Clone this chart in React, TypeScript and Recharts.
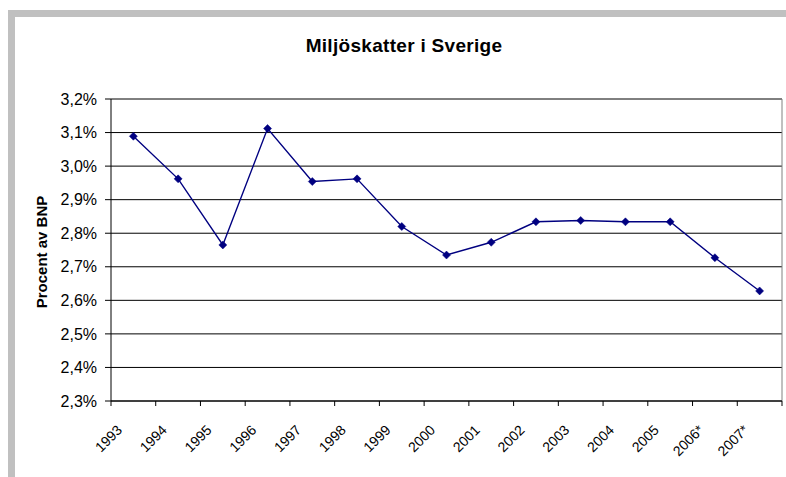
import React from 'react';
import { LineChart, Line, XAxis, YAxis, CartesianGrid, ReferenceLine } from 'recharts';

const years = ['1993', '1994', '1995', '1996', '1997', '1998', '1999', '2000', '2001', '2002', '2003', '2004', '2005', '2006*', '2007*'];
const values = [3.089, 2.962, 2.765, 3.112, 2.954, 2.962, 2.82, 2.735, 2.773, 2.834, 2.838, 2.834, 2.834, 2.727, 2.628];
const yTicks = [2.3, 2.4, 2.5, 2.6, 2.7, 2.8, 2.9, 3.0, 3.1, 3.2];
const xTicks = years.map((_, i) => i).concat([years.length]);

const data = years.map((y, i) => ({ x: i + 0.5, year: y, v: values[i] }));

const FONT = '"Liberation Sans", Arial, sans-serif';

const XTick = (props: any) => {
  const { x, y, payload } = props;
  const label = years[payload.value] ?? '';
  if (!label) return null;
  return (
    <g transform={`translate(${x + 12},${y + 22})`}>
      <text x={0} y={0} textAnchor="end" transform="rotate(-45)" fontSize={14} fontFamily={FONT} fill="#000">
        {label}
      </text>
    </g>
  );
};

const Diamond = (props: any) => {
  const { cx, cy, index } = props;
  if (cx == null || cy == null) return null;
  const r = 4;
  return <path key={`d${index}`} d={`M${cx},${cy - r}L${cx + r},${cy}L${cx},${cy + r}L${cx - r},${cy}Z`} fill="#000080" stroke="#000080" strokeWidth={0.5} />;
};

export default function App() {
  return (
    <div style={{ position: 'absolute', left: 0, top: 0, width: 786, height: 477, background: '#fff', overflow: 'hidden' }}>
      <div style={{ position: 'absolute', left: 8, top: 10, width: 778, height: 7, background: '#c0c0c0' }} />
      <div style={{ position: 'absolute', left: 8, top: 10, width: 7, height: 467, background: '#c0c0c0' }} />
      <div style={{ position: 'absolute', left: 0, top: 0 }}>
        <LineChart width={786} height={477} data={data} margin={{ top: 99, right: 4, bottom: 0, left: 0 }}>
          <CartesianGrid horizontal={true} vertical={false} stroke="#000" strokeDasharray="" />
          <XAxis
            dataKey="x"
            type="number"
            domain={[0, 15]}
            ticks={xTicks}
            interval={0}
            height={76}
            axisLine={{ stroke: '#000' }}
            tickLine={{ stroke: '#000' }}
            tickSize={5}
            tickMargin={3}
            tick={<XTick />}
          />
          <YAxis
            type="number"
            domain={[2.3, 3.2]}
            ticks={yTicks}
            interval={0}
            width={111}
            axisLine={{ stroke: '#000' }}
            tickLine={{ stroke: '#000' }}
            tickSize={6}
            tickMargin={8}
            tick={{ fontSize: 16, fontFamily: FONT, fill: '#000' }}
            tickFormatter={(v: number) => v.toFixed(1).replace('.', ',') + '%'}
          />
          <ReferenceLine y={3.2} stroke="#808080" />
          <ReferenceLine x={15} stroke="#808080" />
          <Line
            dataKey="v"
            type="linear"
            stroke="#000080"
            strokeWidth={1.4}
            dot={<Diamond />}
            activeDot={false}
            isAnimationActive={false}
          />
        </LineChart>
      </div>
      <svg width={786} height={477} style={{ position: 'absolute', left: 0, top: 0, pointerEvents: 'none' }}>
        <text x={404} y={52} textAnchor="middle" fontSize={19} fontWeight="bold" fontFamily={FONT} letterSpacing={0.3} fill="#000">
          Miljöskatter i Sverige
        </text>
        <text x={47} y={252} textAnchor="middle" fontSize={15} fontWeight="bold" fontFamily={FONT} fill="#000" transform="rotate(-90 47 252)">
          Procent av BNP
        </text>
      </svg>
    </div>
  );
}
